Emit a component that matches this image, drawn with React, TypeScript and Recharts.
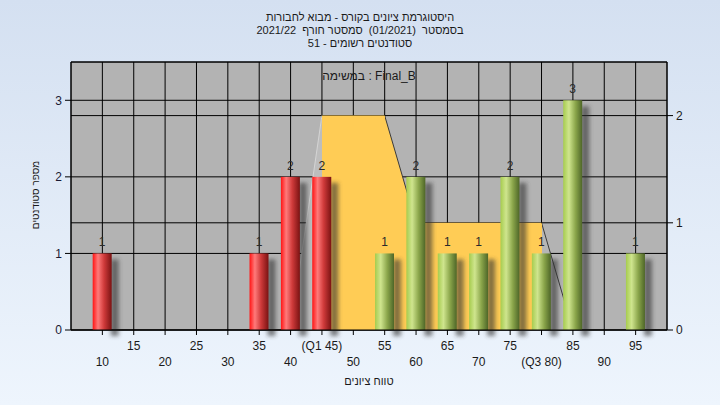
import { ComposedChart, Bar, Area, XAxis, YAxis, CartesianGrid, LabelList } from 'recharts';

// grade buckets (x) and number of students per bucket
const SCORES = [10, 15, 20, 25, 30, 35, 40, 45, 50, 55, 60, 65, 70, 75, 80, 85, 90, 95];
const COUNTS = [1, 0, 0, 0, 0, 1, 2, 2, 0, 1, 2, 1, 1, 2, 1, 3, 0, 1];
const TICK_LABELS = ['10', '15', '20', '25', '30', '35', '40', '(Q1 45)', '50', '55', '60', '65', '70', '75', '(Q3 80)', '85', '90', '95'];

// quartile band drawn against the right axis (Q1 = 45 .. Q3 = 80)
const BAND = [null, null, null, null, null, null, 0, 2, 2, 2, 1, 1, 1, 1, 1, 0, null, null];

const PASS_SCORE = 50;
const LEFT_TICKS = [0, 1, 2, 3];
const RIGHT_TICKS = [0, 1, 2];

const TITLE = ['היסטוגרמת ציונים בקורס - מבוא לחבורות', 'בסמסטר  (01/2021)  סמסטר חורף  2021/22', 'סטודנטים רשומים - 51'];
const SUBTITLE = 'במשימה : Final_B';
const X_LABEL = 'טווח ציונים';
const Y_LABEL = 'מספר סטודנטים';

const FONT = '"Liberation Sans", Arial, "DejaVu Sans", sans-serif';

const data = SCORES.map((s, i) => ({
  score: s,
  count: COUNTS[i] > 0 ? COUNTS[i] : null,
  band: BAND[i],
}));

function CylinderBar(props: any) {
  const { x, y, width, height, payload } = props;
  if (!height || height <= 0) return null;
  const fill = payload.score < PASS_SCORE ? 'url(#redCyl)' : 'url(#greenCyl)';
  return (
    <g>
      <rect x={x + width - 1} y={y + 6} width={8} height={height} fill="#303030" opacity={0.6} filter="url(#barShadow)" />
      <rect x={x} y={y} width={width} height={height} fill={fill} />
    </g>
  );
}

function StaggeredTick(props: any) {
  const { x, y, payload } = props;
  const i = SCORES.indexOf(payload.value);
  const label = i >= 0 ? TICK_LABELS[i] : String(payload.value);
  const low = i % 2 === 0;
  return (
    <text x={x} y={y} dy={low ? 29 : 13} textAnchor="middle" fill="#1a1a1a" fontSize={12} fontFamily={FONT}>
      {label}
    </text>
  );
}

export default function App() {
  return (
    <div style={{ position: 'absolute', left: 0, top: 0, width: 720, height: 405, background: 'linear-gradient(#d4e0f1, #eef5fd)', fontFamily: FONT, color: '#1a1a1a' }}>
      <div dir="rtl" style={{ position: 'absolute', top: 11, left: 0, width: 720, textAlign: 'center', fontSize: 11, lineHeight: '13px', whiteSpace: 'pre' }}>
        {TITLE.map(t => <div key={t}>{t}</div>)}
      </div>

      <ComposedChart width={720} height={405} data={data} margin={{ top: 62, right: 13, bottom: 20, left: 31 }}>
        <defs>
          <linearGradient id="redCyl" x1="0" y1="0" x2="1" y2="0">
            <stop offset="0%" stopColor="#ff1414" />
            <stop offset="28%" stopColor="#ff7a7a" />
            <stop offset="60%" stopColor="#cf3a3a" />
            <stop offset="100%" stopColor="#7a1212" />
          </linearGradient>
          <linearGradient id="greenCyl" x1="0" y1="0" x2="1" y2="0">
            <stop offset="0%" stopColor="#a6cc4e" />
            <stop offset="30%" stopColor="#cfe58e" />
            <stop offset="65%" stopColor="#8aa54a" />
            <stop offset="100%" stopColor="#4e6628" />
          </linearGradient>
          <linearGradient id="bandFill" x1="0" y1="0" x2="1" y2="0">
            <stop offset="0%" stopColor="#bdbdbd" />
            <stop offset="11.1%" stopColor="#bdbdbd" />
            <stop offset="11.1%" stopColor="#ffcc55" />
            <stop offset="88.9%" stopColor="#ffcc55" />
            <stop offset="88.9%" stopColor="#b6b6b6" />
            <stop offset="100%" stopColor="#b6b6b6" />
          </linearGradient>
          <linearGradient id="bandEdge" x1="0" y1="0" x2="1" y2="0">
            <stop offset="0%" stopColor="#d4d4d4" stopOpacity={1} />
            <stop offset="11.1%" stopColor="#d4d4d4" stopOpacity={1} />
            <stop offset="11.1%" stopColor="#ffcc55" stopOpacity={0} />
            <stop offset="33.3%" stopColor="#ffcc55" stopOpacity={0} />
            <stop offset="33.3%" stopColor="#3a3a3a" stopOpacity={1} />
            <stop offset="44.4%" stopColor="#3a3a3a" stopOpacity={1} />
            <stop offset="44.4%" stopColor="#ffcc55" stopOpacity={0} />
            <stop offset="88.9%" stopColor="#ffcc55" stopOpacity={0} />
            <stop offset="88.9%" stopColor="#3a3a3a" stopOpacity={1} />
            <stop offset="100%" stopColor="#3a3a3a" stopOpacity={1} />
          </linearGradient>
          <filter id="barShadow" x="-100%" y="-10%" width="300%" height="120%">
            <feGaussianBlur stdDeviation="2" />
          </filter>
        </defs>

        <CartesianGrid yAxisId="left" stroke="#000" fill="#b3b3b3" fillOpacity={1} />
        <CartesianGrid yAxisId="right" stroke="#000" vertical={false} />

        <XAxis
          dataKey="score"
          type="number"
          domain={[5, 100]}
          ticks={SCORES}
          interval={0}
          height={55}
          tickSize={5}
          tickMargin={2}
          stroke="#000"
          tick={<StaggeredTick />}
        />
        <YAxis yAxisId="left" domain={[0, 3.5]} ticks={LEFT_TICKS} width={40} tickSize={6} tickMargin={3} stroke="#000" tick={{ fill: '#1a1a33', fontSize: 12 }} />
        <YAxis yAxisId="right" orientation="right" domain={[0, 2.5]} ticks={RIGHT_TICKS} width={40} tickSize={6} tickMargin={3} stroke="#000" tick={{ fill: '#1a1a1a', fontSize: 12 }} />

        <Area yAxisId="right" dataKey="band" type="linear" fill="url(#bandFill)" fillOpacity={1} stroke="url(#bandEdge)" strokeWidth={1} isAnimationActive={false} />

        <Bar yAxisId="left" dataKey="count" barSize={19} shape={<CylinderBar />} isAnimationActive={false}>
          <LabelList dataKey="count" position="top" offset={7} fill="#2a2a2a" stroke="none" fontSize={12} fontFamily={FONT} />
        </Bar>
      </ComposedChart>

      <div style={{ position: 'absolute', top: 69, left: 71, width: 596, textAlign: 'center', fontSize: 12, lineHeight: '14px' }}>{SUBTITLE}</div>
      <div dir="rtl" style={{ position: 'absolute', top: 374, left: 71, width: 596, textAlign: 'center', fontSize: 11, lineHeight: '14px' }}>{X_LABEL}</div>
      <div dir="rtl" style={{ position: 'absolute', left: 35, top: 195, transform: 'translate(-50%, -50%) rotate(-90deg)', whiteSpace: 'nowrap', fontSize: 10 }}>{Y_LABEL}</div>
    </div>
  );
}
